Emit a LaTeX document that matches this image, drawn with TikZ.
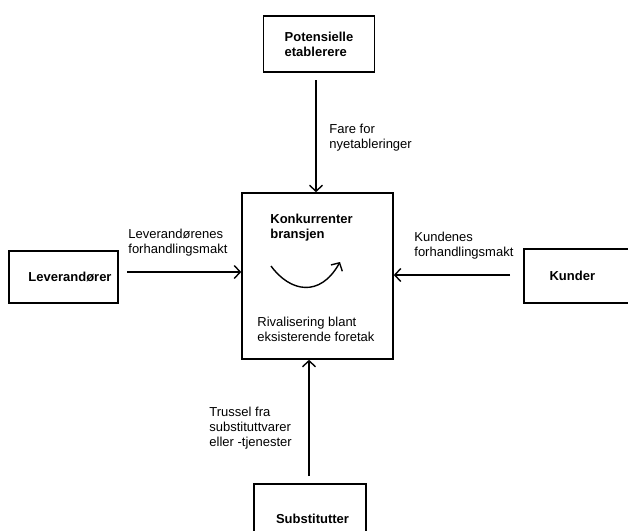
\documentclass[tikz,border=0pt]{standalone}
\usepackage{fontspec}
\setmainfont{Liberation Sans}
\usetikzlibrary{arrows.meta, positioning}

\begin{document}
\begin{tikzpicture}[x=1pt, y=-1pt, thick,
    force/.style={draw, line width=1.6pt, inner sep=0pt, font=\fontsize{13}{15}\selectfont\bfseries},
    label/.style={align=left, anchor=north west, inner sep=0pt, font=\fontsize{13}{15}\selectfont},
    push/.style={-{Straight Barb[length=6pt, width=13pt, line width=1.4pt]}, line width=1.4pt}]
    \useasboundingbox (0,0) rectangle (628,530);

    % forces
    \node[force, minimum width=151pt, minimum height=166pt] (rival) at (317.5,276) {};
    \node[force, minimum width=111pt, minimum height=56pt, align=left] (entry) at (319,44) {Potensielle\\etablerere};
    \node[force, minimum width=109pt, minimum height=52pt] (supplier) at (63.5,277) {\hspace*{13pt}Leverand\o rer};
    \node[force, minimum width=120pt, minimum height=54pt, anchor=west] (buyer) at (523,276) {\hspace*{25pt}Kunder\hspace*{48pt}};
    \node[force, minimum width=112pt, minimum height=70pt, anchor=north] (subst) at (310,483) {\hspace*{5pt}\raisebox{-2pt}{Substitutter}};

    % end points of the arrows
    \coordinate (entry out) at (316,80);
    \coordinate (supplier out) at (127,272);
    \coordinate (buyer out) at (510,275);
    \coordinate (subst out) at (309,476);

    \draw[push] (entry out) -- (entry out |- rival.north);
    \draw[push] (supplier out) -- (supplier out -| rival.west);
    \draw[push] (buyer out) -- (buyer out -| rival.east);
    \draw[push] (subst out) -- (subst out |- rival.south);

    % texts
    \node[label] (fare) at (329,124) {Fare for\\nyetableringer};
    \node[label] (levmakt) at (128,229) {Leverand\o renes\\forhandlingsmakt};
    \node[label] (kundmakt) at (414,232) {Kundenes\\forhandlingsmakt};
    \node[label] (trussel) at (209,407) {Trussel fra\\substituttvarer\\eller -tjenester};
    \node[label, font=\fontsize{13}{15}\selectfont\bfseries] (bransje) at (270,214) {Konkurrenter\\bransjen};
    \node[label] (rivtekst) at (257,317) {Rivalisering blant\\eksisterende foretak};

    % rivalry curve
    \coordinate (curve start) at (271,266);
    \coordinate (curve end) at (340,262);
    \draw[push] (curve start) .. controls (290,292) and (320,298) .. (curve end);
\end{tikzpicture}
\end{document}
